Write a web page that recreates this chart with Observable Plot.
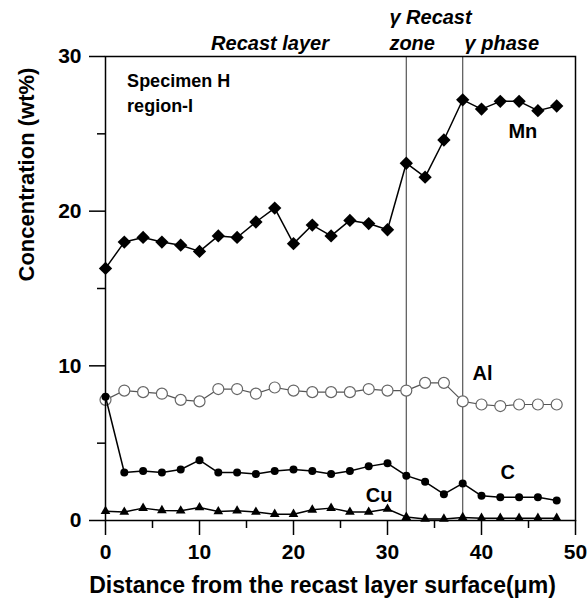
<!DOCTYPE html>
<html><head><meta charset="utf-8">
<script src="https://cdn.jsdelivr.net/npm/d3@7"></script>
<script src="https://cdn.jsdelivr.net/npm/@observablehq/plot@0.6"></script>
<style>body{margin:0;background:#fff}</style>
</head><body><div id="chart"></div>
<script>
const distance = [0,2,4,6,8,10,12,14,16,18,20,22,24,26,28,30,32,34,36,38,40,42,44,46,48];
const mn = [16.3,18.0,18.3,18.0,17.8,17.4,18.4,18.3,19.3,20.2,17.9,19.1,18.4,19.4,19.2,18.8,23.1,22.2,24.6,27.2,26.6,27.1,27.1,26.5,26.8];
const al = [7.8,8.4,8.3,8.2,7.8,7.7,8.5,8.5,8.2,8.6,8.4,8.3,8.3,8.3,8.5,8.4,8.4,8.9,8.9,7.7,7.5,7.4,7.5,7.5,7.5];
const c  = [8.0,3.1,3.2,3.1,3.3,3.9,3.1,3.1,3.0,3.2,3.3,3.2,3.0,3.2,3.5,3.7,2.9,2.5,1.7,2.4,1.6,1.5,1.5,1.5,1.3];
const cu = [0.6,0.55,0.8,0.65,0.63,0.84,0.58,0.63,0.55,0.41,0.41,0.69,0.8,0.55,0.55,0.74,0.22,0.1,0.1,0.2,0.15,0.15,0.15,0.15,0.15];
const boundaries = [32, 38];
const xTicks = [0,10,20,30,40,50];
const xMinor = [5,15,25,35,45];
const yTicks = [0,10,20,30];
const yMinor = [5,15,25];
const recastLabel = "Recast layer";
const zoneLabel = "γ Recast\nzone";
const phaseLabel = "γ phase";
const seriesNames = ["Mn", "Al", "C", "Cu"];
const seriesLabelX = [44.4, 40.1, 42.8, 29.1];
const seriesLabelY = [24.7, 9.1, 2.66, 1.2];

const rows = arr => distance.map((x, i) => ({x, y: arr[i]}));
const font = "'Liberation Sans', Arial, sans-serif";
const headerStyle = {lineAnchor: "bottom", lineHeight: 1.3, dy: -7, fontSize: 20, fontWeight: "bold", fontStyle: "italic"};

const chart = Plot.plot({
  width: 587, height: 601,
  marginLeft: 105, marginRight: 12, marginTop: 56, marginBottom: 81,
  x: {domain: [0, 50]},
  y: {domain: [0, 30]},
  style: {fontFamily: font, background: "white", color: "black"},
  marks: [
    Plot.ruleX(boundaries, {stroke: "#555", strokeWidth: 1.2}),
    Plot.line(rows(al), {x: "x", y: "y", stroke: "#555", strokeWidth: 1.2}),
    Plot.dot(rows(al), {x: "x", y: "y", r: 5.5, stroke: "#666", fill: "white", strokeWidth: 1.2}),
    Plot.line(rows(c), {x: "x", y: "y", stroke: "black", strokeWidth: 1.5}),
    Plot.dot(rows(c), {x: "x", y: "y", r: 4, fill: "black"}),
    Plot.line(rows(cu), {x: "x", y: "y", stroke: "black", strokeWidth: 1.5}),
    Plot.dot(rows(cu), {x: "x", y: "y", r: 3.6, symbol: "triangle", fill: "black"}),
    Plot.line(rows(mn), {x: "x", y: "y", stroke: "black", strokeWidth: 1.5}),
    Plot.dot(rows(mn), {x: "x", y: "y", r: 6, symbol: "diamond2", fill: "black"}),
    Plot.frame({stroke: "black", strokeWidth: 1.5}),
    Plot.axisX(xTicks, {tickSize: 15, tickPadding: 9, fontSize: 21, fontWeight: "bold", strokeWidth: 1.5, label: null}),
    Plot.axisX(xMinor, {tickSize: 8, text: null, strokeWidth: 1.5, label: null}),
    Plot.axisY(yTicks, {tickSize: 16, tickPadding: 8, fontSize: 21, fontWeight: "bold", strokeWidth: 1.5, label: null}),
    Plot.axisY(yMinor, {tickSize: 8, text: null, strokeWidth: 1.5, label: null}),
    Plot.text([recastLabel], {x: 17.5, y: 30, text: d => d, textAnchor: "middle", ...headerStyle}),
    Plot.text([zoneLabel], {x: 30.2, y: 30, text: d => d, textAnchor: "start", ...headerStyle}),
    Plot.text([phaseLabel], {x: 38.2, y: 30, text: d => d, textAnchor: "start", ...headerStyle}),
    Plot.text(["Specimen H\nregion-I"], {x: 2.3, y: 26.43, text: d => d, textAnchor: "start", lineAnchor: "bottom",
      lineHeight: 1.4, fontSize: 18, fontWeight: "bold"}),
    Plot.text(seriesNames, {x: (d, i) => seriesLabelX[i], y: (d, i) => seriesLabelY[i], text: d => d,
      lineAnchor: "bottom", fontSize: 20, fontWeight: "bold"}),
    Plot.text(["Concentration (wt%)"], {frameAnchor: "left", text: d => d, rotate: -90, dx: -79, dy: -7,
      fontSize: 22, fontWeight: "bold"}),
    Plot.text(["Distance from the recast layer surface(μm)"], {frameAnchor: "bottom", text: d => d, dx: -18, dy: 72,
      lineAnchor: "bottom", fontSize: 23, fontWeight: "bold"})
  ]
});
document.getElementById("chart").append(chart);
</script>
</body></html>
